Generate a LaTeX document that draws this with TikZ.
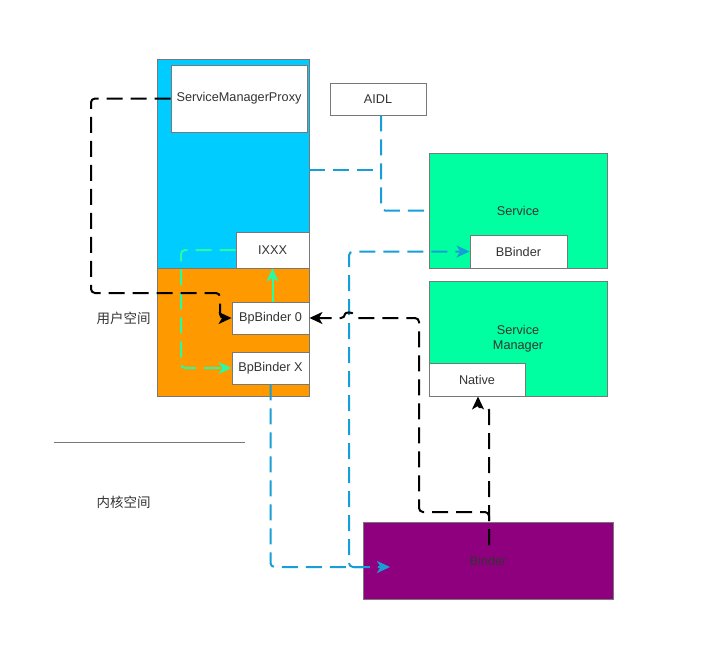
\documentclass[tikz,border=0pt]{standalone}
\usepackage{fontspec}
\setmainfont{Liberation Sans}
\newfontfamily\cjk{Noto Sans CJK SC}
\usetikzlibrary{arrows.meta,calc}
\definecolor{bordergray}{RGB}{120,120,120}
\definecolor{txtgray}{RGB}{51,51,51}
\definecolor{cblue}{RGB}{0,204,255}
\definecolor{corange}{RGB}{255,153,0}
\definecolor{cgreen}{RGB}{0,255,160}
\definecolor{cpurple}{RGB}{143,0,127}
\definecolor{lblue}{RGB}{24,158,214}
\definecolor{lgreen}{RGB}{40,250,165}
\tikzset{
  box/.style={draw=bordergray, line width=0.9pt, fill=white, inner sep=0pt, text=txtgray,
    font=\fontsize{12.7}{15}\selectfont, align=center},
  conn/.style={line width=2pt, dash pattern=on 16pt off 8pt, rounded corners=4pt},
  tip/.style={-{Stealth[length=13pt,width=12pt,inset=3.5pt]}},
  blackconn/.style={conn, black},
  blueconn/.style={conn, lblue},
  greenconn/.style={conn, lgreen},
}
\begin{document}
\begin{tikzpicture}[x=1pt,y=-1pt]
\useasboundingbox (0,0) rectangle (714,664);
% containers
\node[box, fill=cblue, minimum width=152pt, minimum height=209pt] (blue) at (233,163.5) {};
\node[box, fill=corange, minimum width=152pt, minimum height=128pt] (orange) at (233,332) {};
\node[box, minimum width=136pt, minimum height=67pt] (smp) at (239,98.5) {ServiceManagerProxy};
\node[box, minimum width=96pt, minimum height=32pt] (aidl) at (378,99) {AIDL};
\node[box, fill=cgreen, minimum width=178pt, minimum height=115pt] (service) at (518,210.5) {Service};
\node[box, minimum width=97pt, minimum height=33pt] (bbinder) at (518.5,251.5) {BBinder};
\node[box, fill=cgreen, minimum width=178pt, minimum height=115pt] (sm) at (518,338.5) {Service\\Manager};
\node[box, minimum width=96pt, minimum height=33pt] (native) at (477,379.5) {Native};
\node[box, minimum width=73pt, minimum height=36pt] (ixxx) at (272.5,250) {IXXX};
\node[box, minimum width=77pt, minimum height=32pt] (bp0) at (270.5,318) {BpBinder 0};
\node[box, minimum width=77pt, minimum height=32pt] (bpx) at (270.5,368) {BpBinder X};
\node[box, fill=cpurple, minimum width=250pt, minimum height=77pt] (binder) at (488,560.5) {Binder};
% labels and divider
\node[text=txtgray, font=\cjk\fontsize{13.5}{15}\selectfont] (userspace) at (123.5,318) {用户空间};
\node[text=txtgray, font=\cjk\fontsize{13.5}{15}\selectfont] (kernelspace) at (123.5,502) {内核空间};
\coordinate (divl) at (54,442);
\coordinate (divr) at (245,442);
\draw[bordergray, line width=0.9pt] (divl) -- (divr);
% helper coordinates
\coordinate (jn) at (381,170);
\coordinate (binderin) at (390,567);
\coordinate (binderout) at (363,567);
\coordinate (bstart) at (489,545);
% blue connectors
\draw[blueconn] (blue.east |- jn) -- (jn);
\draw[blueconn] (aidl.south -| jn) |- (service.west);
\draw[blueconn, tip] (bpx.south) |- (binderin);
\draw[blueconn, tip] (binderout) -- (349,567) |- (bbinder.west);
% green connectors
\draw[greenconn, tip] (ixxx.west) -- (181,250) -- (181,368) -- (bpx.west);
\draw[lgreen, line width=2pt, tip] (bp0.north -| ixxx.south) -- (ixxx.south);
% black connectors
\draw[blackconn, tip] (smp.west) -- (91,98.5) -- (91,293) -- (220,293) -- (220,318) -- (bp0.west);
\draw[blackconn, tip] (bstart) -- (489,512) -- (419,512) -- (419,318)
   -- (353,318) .. controls (353,312) and (345,312) .. (345,318) -- (bp0.east);
\draw[blackconn, tip] (bstart) -- (489,414) .. controls (489,404) and (478,410) .. (native.south -| 478,0);
\end{tikzpicture}
\end{document}
